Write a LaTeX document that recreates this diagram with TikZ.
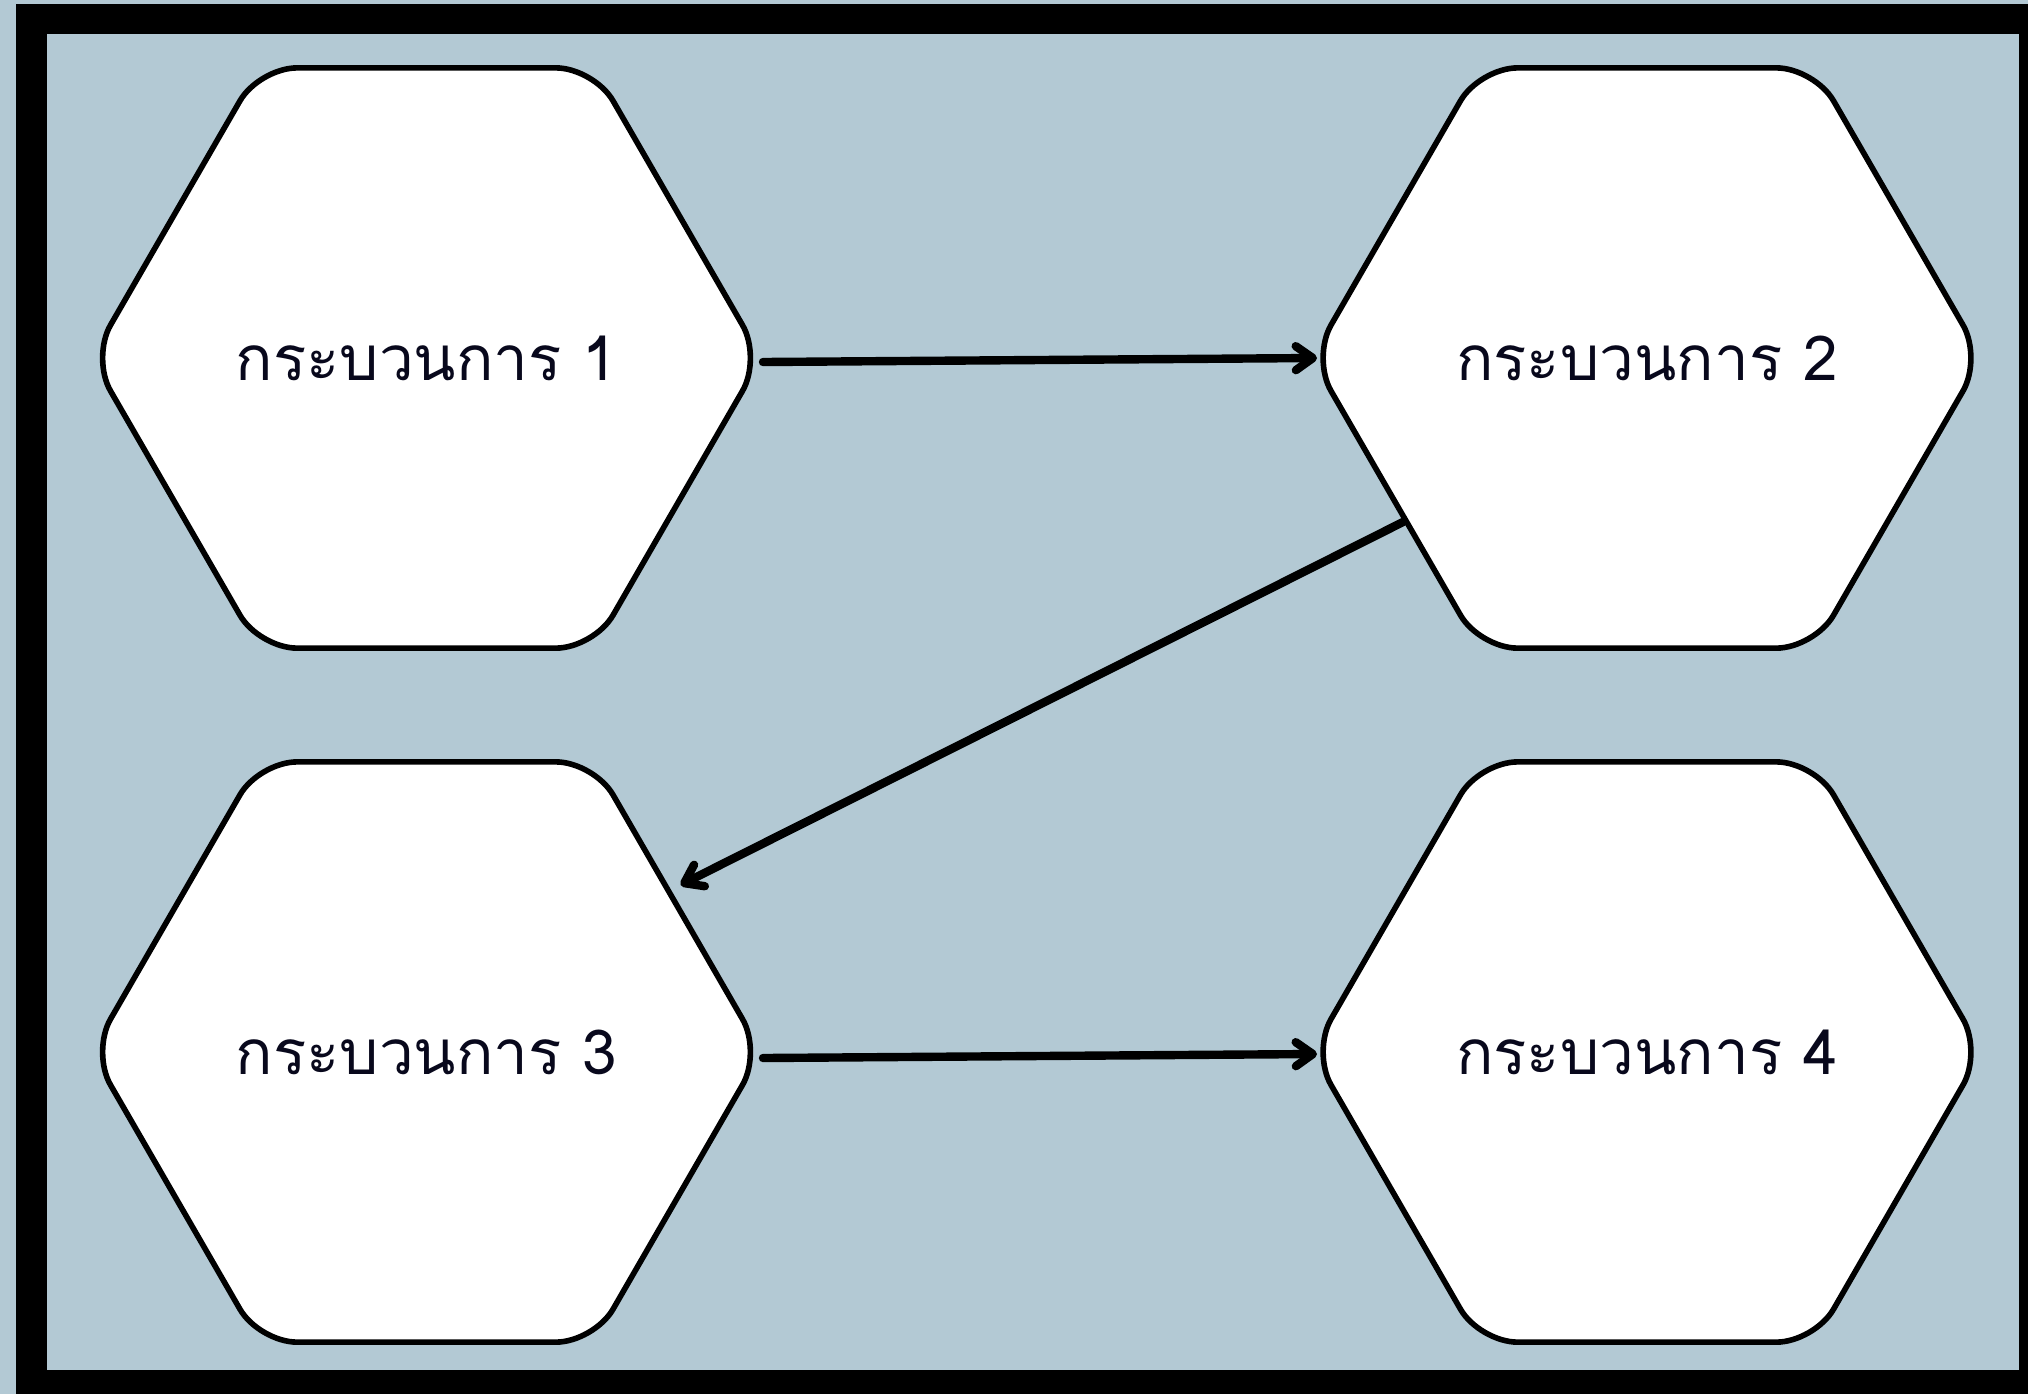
\documentclass[tikz,border=0pt]{standalone}
\usepackage{fontspec}
\newfontfamily\thaifont[Script=Thai]{Loma}
\usetikzlibrary{shapes.geometric,arrows.meta,calc}
\definecolor{bgblue}{RGB}{179,201,212}
\definecolor{txt}{RGB}{8,8,28}
\newcommand{\hextext}[1]{\makebox[0pt]{#1}}
\begin{document}
\begin{tikzpicture}[x=0.5pt,y=-0.5pt,
  hexnode/.style={regular polygon, regular polygon sides=6, minimum size=335pt,
    draw=black, line width=2.8pt, fill=white, rounded corners=19pt, inner sep=0pt,
    font=\thaifont\fontsize{31}{36}\selectfont, text=txt},
  conn/.style={line width=4.2pt, line cap=round,
    -{Straight Barb[length=8.5pt,width=12pt,round]}}]
\useasboundingbox (0,0) rectangle (2028,1394);
\fill[bgblue] (0,0) rectangle (2028,1394);
\fill[black] (16,4) rectangle (2028,1394);
\fill[bgblue] (47,34) rectangle (2019,1370);

\node[hexnode] (h1) at (426.5,358) {\hextext{กระบวนการ 1}};
\node[hexnode] (h2) at (1647,358) {\hextext{กระบวนการ 2}};
\node[hexnode] (h3) at (426.5,1052) {\hextext{กระบวนการ 3}};
\node[hexnode] (h4) at (1647,1052) {\hextext{กระบวนการ 4}};

\draw[conn] ($(h1.center)+(336.5,4)$) -- ($(h2.center)+(-330,0)$);
\draw[conn] ($(h2.center)+(-244,164)$) -- ($(h3.center)+(254,-167)$);
\draw[conn] ($(h3.center)+(336.5,6)$) -- ($(h4.center)+(-330,2)$);
\end{tikzpicture}
\end{document}
